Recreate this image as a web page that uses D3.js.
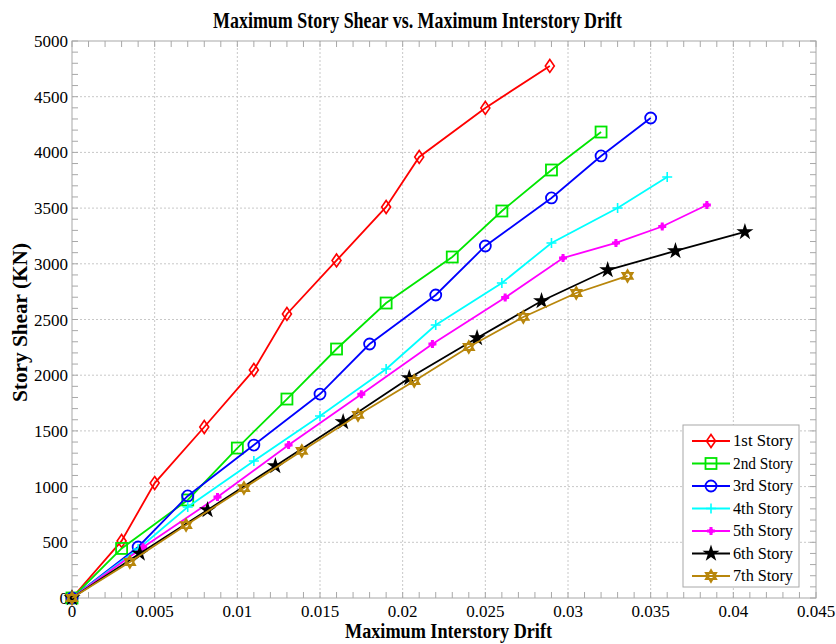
<!DOCTYPE html>
<html>
<head>
<meta charset="utf-8">
<script src="https://cdn.jsdelivr.net/npm/d3@7"></script>
<style>
  body { margin: 0; background: #fff; }
  text { font-family: "Liberation Serif", "Times New Roman", serif; }
</style>
</head>
<body>
<svg id="chart" width="836" height="644"></svg>
<script>
// story drift / shear pairs
const stories = ['1st Story', '2nd Story', '3rd Story', '4th Story', '5th Story', '6th Story', '7th Story'];
const colors = ['#ff0000', '#00e600', '#0000ff', '#00ffff', '#ff00ff', '#000000', '#b8860b'];
const symbols = ['diamond', 'square', 'circle', 'plus', 'fatplus', 'star', 'hexagram'];

const drift1 = [0, 0.003, 0.005, 0.008, 0.011, 0.013, 0.016, 0.019, 0.021, 0.025, 0.0289];
const shear1 = [0, 512, 1032, 1535, 2047, 2550, 3030, 3510, 3959, 4399, 4776];
const drift2 = [0, 0.003, 0.007, 0.010, 0.013, 0.016, 0.019, 0.023, 0.026, 0.029, 0.032];
const shear2 = [0, 445, 880, 1346, 1786, 2235, 2648, 3061, 3474, 3842, 4183];
const drift3 = [0, 0.004, 0.007, 0.011, 0.015, 0.018, 0.022, 0.025, 0.029, 0.032, 0.035];
const shear3 = [0, 458, 916, 1373, 1831, 2280, 2720, 3160, 3591, 3968, 4309];
const drift4 = [0, 0.004, 0.007, 0.011, 0.015, 0.019, 0.022, 0.026, 0.029, 0.033, 0.036];
const shear4 = [0, 440, 817, 1230, 1634, 2056, 2451, 2828, 3187, 3501, 3779];
const drift5 = [0, 0.0043, 0.0088, 0.0131, 0.0175, 0.0218, 0.0262, 0.0297, 0.0329, 0.0357, 0.0384];
const shear5 = [0, 455, 907, 1373, 1830, 2280, 2697, 3052, 3187, 3335, 3528];
const drift6 = [0, 0.0041, 0.0082, 0.0123, 0.0164, 0.0204, 0.0245, 0.0284, 0.0324, 0.0365, 0.0407];
const shear6 = [0, 400, 790, 1185, 1580, 1975, 2334, 2666, 2944, 3115, 3286];
const drift7 = [0, 0.0035, 0.0069, 0.0104, 0.0139, 0.0173, 0.0207, 0.0240, 0.0273, 0.0305, 0.0336];
const shear7 = [0, 323, 655, 987, 1320, 1643, 1948, 2253, 2523, 2738, 2891];

const drifts = [drift1, drift2, drift3, drift4, drift5, drift6, drift7];
const shears = [shear1, shear2, shear3, shear4, shear5, shear6, shear7];

const xTicks = [0, 0.005, 0.01, 0.015, 0.02, 0.025, 0.03, 0.035, 0.04, 0.045];
const yTicks = [0, 500, 1000, 1500, 2000, 2500, 3000, 3500, 4000, 4500, 5000];

const svg = d3.select('#chart');
const margin = { left: 72, right: 20, top: 41, bottom: 46 };
const W = 836, H = 644;
const x = d3.scaleLinear().domain([0, 0.045]).range([margin.left, W - margin.right]);
const y = d3.scaleLinear().domain([0, 5000]).range([H - margin.bottom, margin.top]);

// grid
const grid = svg.append('g').attr('stroke', '#c8c8c8').attr('stroke-dasharray', '2,2').attr('stroke-width', 1);
xTicks.slice(1, -1).forEach((t) => {
    grid.append('line').attr('x1', x(t)).attr('x2', x(t)).attr('y1', y(0)).attr('y2', y(5000));
});
yTicks.slice(1, -1).forEach((t) => {
    grid.append('line').attr('x1', x(0)).attr('x2', x(0.045)).attr('y1', y(t)).attr('y2', y(t));
});

// box with inward ticks
const tickLen = 6;
const minorX = d3.range(0, 0.0451, 0.001);
const minorY = d3.range(0, 5001, 100);
const box = svg.append('g').attr('stroke', '#a8a8a8').attr('stroke-width', 1);
box.append('rect')
    .attr('x', x(0)).attr('y', y(5000))
    .attr('width', x(0.045) - x(0)).attr('height', y(0) - y(5000))
    .attr('fill', 'none');
minorX.forEach((t) => {
    box.append('line').attr('x1', x(t)).attr('x2', x(t)).attr('y1', y(0)).attr('y2', y(0) - tickLen);
    box.append('line').attr('x1', x(t)).attr('x2', x(t)).attr('y1', y(5000)).attr('y2', y(5000) + tickLen);
});
minorY.forEach((t) => {
    box.append('line').attr('x1', x(0)).attr('x2', x(0) + tickLen).attr('y1', y(t)).attr('y2', y(t));
    box.append('line').attr('x1', x(0.045)).attr('x2', x(0.045) - tickLen).attr('y1', y(t)).attr('y2', y(t));
});

// tick labels
svg.append('g').selectAll('text').data(xTicks).join('text')
    .attr('x', (d) => x(d)).attr('y', y(0) + 19)
    .attr('text-anchor', 'middle').attr('font-size', 17)
    .text((d) => d);
svg.append('g').selectAll('text').data(yTicks).join('text')
    .attr('x', x(0) - 4).attr('y', (d) => y(d) + 6)
    .attr('text-anchor', 'end').attr('font-size', 17)
    .text((d) => d);

// titles (reference glyphs are tall and narrow, so squeeze to measured widths)
svg.append('text').attr('x', 213).attr('y', 28)
    .attr('font-size', 23).attr('font-weight', 'bold')
    .attr('textLength', 409).attr('lengthAdjust', 'spacingAndGlyphs')
    .text('Maximum Story Shear vs. Maximum Interstory Drift');
svg.append('text').attr('x', 345).attr('y', 638)
    .attr('font-size', 20).attr('font-weight', 'bold')
    .attr('textLength', 207).attr('lengthAdjust', 'spacingAndGlyphs')
    .text('Maximum Interstory Drift');
svg.append('text').attr('transform', 'translate(27,402) rotate(-90)')
    .attr('font-size', 20).attr('font-weight', 'bold')
    .attr('textLength', 159).attr('lengthAdjust', 'spacingAndGlyphs')
    .text('Story Shear (KN)');

function hexagramPath(r) {
    const pts = (off) => d3.range(3).map((i) => {
        const a = off + i * 2 * Math.PI / 3;
        return [r * Math.sin(a), -r * Math.cos(a)];
    });
    const tri = (p) => 'M' + p.map((q) => q[0].toFixed(2) + ',' + q[1].toFixed(2)).join('L') + 'Z';
    return tri(pts(0)) + tri(pts(Math.PI));
}

function drawMarker(g, kind, color) {
    switch (kind) {
    case 'diamond':
        g.append('path').attr('d', 'M0,-6.5L4.5,0L0,6.5L-4.5,0Z').attr('fill', 'none').attr('stroke', color).attr('stroke-width', 1.6);
        break;
    case 'square':
        g.append('rect').attr('x', -5.5).attr('y', -5.5).attr('width', 11).attr('height', 11)
            .attr('fill', 'none').attr('stroke', color).attr('stroke-width', 1.8);
        break;
    case 'circle':
        g.append('circle').attr('r', 5.5).attr('fill', 'none').attr('stroke', color).attr('stroke-width', 1.8);
        break;
    case 'plus':
        g.append('path').attr('d', 'M-5,0H5M0,-5V5').attr('stroke', color).attr('stroke-width', 1.6);
        break;
    case 'fatplus':
        g.append('path').attr('d', 'M-4,0H4M0,-4V4').attr('stroke', color).attr('stroke-width', 3);
        g.append('circle').attr('r', 2.5).attr('fill', color);
        break;
    case 'star':
        g.append('path').attr('d', d3.symbol(d3.symbolStar, 90)()).attr('fill', color);
        break;
    case 'hexagram':
        g.append('path').attr('d', hexagramPath(6)).attr('fill', 'none').attr('stroke', color).attr('stroke-width', 1.8);
        break;
    }
}

const line = d3.line().x((d) => x(d[0])).y((d) => y(d[1]));

stories.forEach((name, i) => {
    const pts = drifts[i].map((d, j) => [d, shears[i][j]]);
    const g = svg.append('g');
    g.append('path').attr('d', line(pts)).attr('fill', 'none')
        .attr('stroke', colors[i]).attr('stroke-width', 1.8);
    pts.forEach((p) => {
        drawMarker(g.append('g').attr('transform', `translate(${x(p[0])},${y(p[1])})`), symbols[i], colors[i]);
    });
});

// legend
const legend = svg.append('g').attr('transform', 'translate(683,425)');
legend.append('rect').attr('width', 116).attr('height', 162)
    .attr('fill', '#fff').attr('stroke', '#a8a8a8');
stories.forEach((name, i) => {
    const row = legend.append('g').attr('transform', `translate(0,${16 + i * 22.5})`);
    row.append('line').attr('x1', 9).attr('x2', 47).attr('stroke', colors[i]).attr('stroke-width', 2);
    drawMarker(row.append('g').attr('transform', 'translate(28,0)'), symbols[i], colors[i]);
    row.append('text').attr('x', 50).attr('y', 5).attr('font-size', 16)
        .attr('textLength', 60).attr('lengthAdjust', 'spacingAndGlyphs').text(name);
});
</script>
</body>
</html>
